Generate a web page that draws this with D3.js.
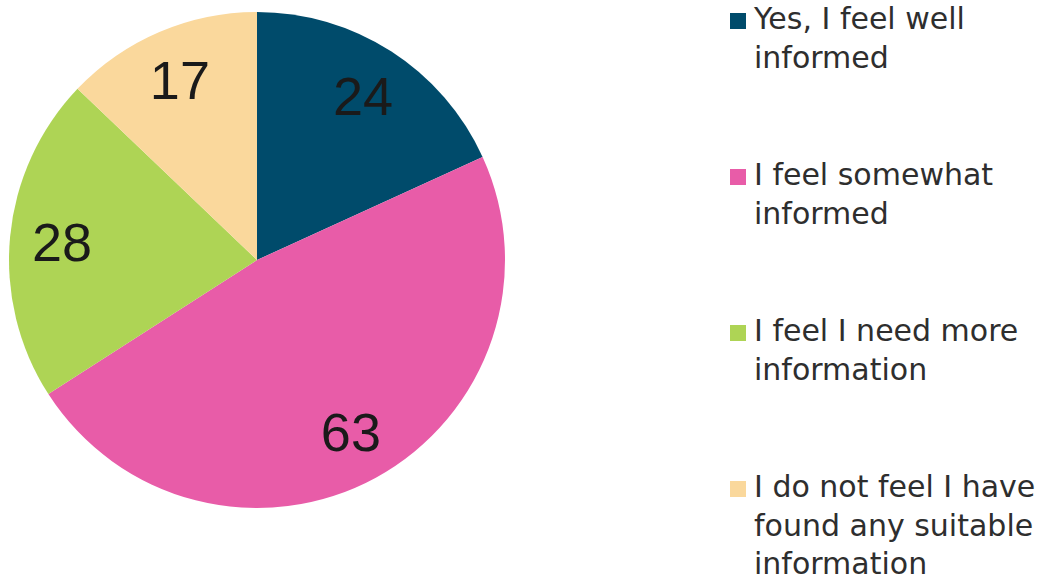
<!DOCTYPE html>
<html>
<head>
<meta charset="utf-8">
<script src="https://cdn.jsdelivr.net/npm/d3@7"></script>
<style>
  body { margin: 0; background: #fff; }
  svg { display: block; }
</style>
</head>
<body>
<div id="chart"></div>
<script>
var width = 1049
var height = 581

// data
var categories = ['Yes, I feel well informed', 'I feel somewhat informed', 'I feel I need more information', 'I do not feel I have found any suitable information']
var legendLines = [['Yes, I feel well', 'informed'], ['I feel somewhat', 'informed'], ['I feel I need more', 'information'], ['I do not feel I have', 'found any suitable', 'information']]
var values = [24, 63, 28, 17]
var colors = ['#004b6b', '#e85ca8', '#aed455', '#fad89c']

var cx = 257, cy = 260, radius = 248

var color = d3.scaleOrdinal().domain(categories).range(colors)

var pie = d3.pie().sort(null).value(d => d.value)

var arc = d3.arc().innerRadius(0).outerRadius(radius)
var labelArc = d3.arc().innerRadius(radius * 0.79).outerRadius(radius * 0.79)

var data = categories.map((c, i) => ({ name: c, value: values[i], lines: legendLines[i] }))

var svg = d3.select('#chart').append('svg')
    .attr('width', width)
    .attr('height', height)

var g = svg.append('g').attr('transform', `translate(${cx},${cy})`)

var slices = g.selectAll('g.slice')
    .data(pie(data))
    .enter().append('g').attr('class', 'slice')

slices.append('path')
    .attr('d', arc)
    .style('fill', d => color(d.data.name))

slices.append('text')
    .attr('transform', d => `translate(${labelArc.centroid(d)})`)
    .attr('text-anchor', 'middle')
    .attr('dy', '0.36em')
    .style('font-family', '"Liberation Sans", Arial, sans-serif')
    .style('font-size', '54px')
    .style('fill', '#1a1a1a')
    .text(d => d.data.value)

// legend
var legendY = d3.scalePoint().domain(categories).range([29, 497])

var legend = svg.append('g').attr('transform', 'translate(730,0)')
    .selectAll('g.item')
    .data(data)
    .enter().append('g').attr('class', 'item')
    .attr('transform', d => `translate(0,${legendY(d.name)})`)

legend.append('rect')
    .attr('x', 0)
    .attr('y', -16)
    .attr('width', 16)
    .attr('height', 16)
    .style('fill', d => color(d.name))

legend.append('text')
    .style('font-family', '"DejaVu Sans", sans-serif')
    .style('font-size', '30px')
    .style('fill', '#2e2e2e')
    .selectAll('tspan')
    .data(d => d.lines)
    .enter().append('tspan')
    .attr('x', 24)
    .attr('y', (_, i) => i * 38.5)
    .text(d => d)
</script>
</body>
</html>
